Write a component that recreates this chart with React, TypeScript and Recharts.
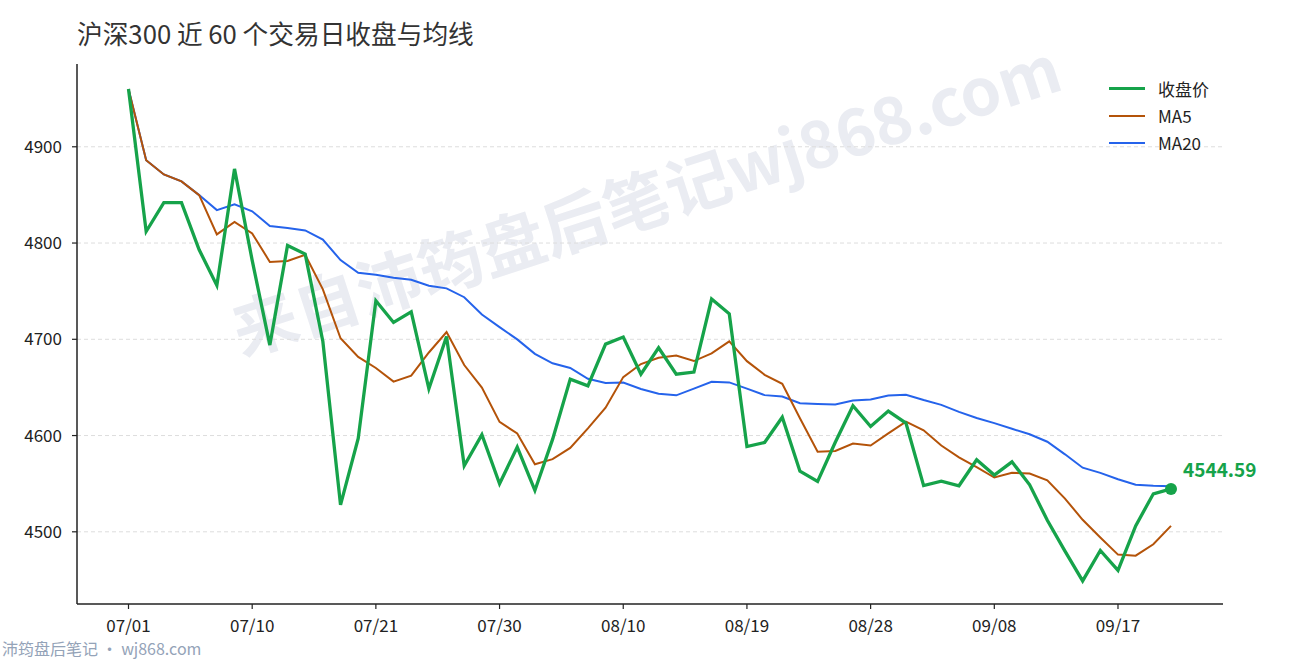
import React from 'react';
import { LineChart, Line, XAxis, YAxis, ReferenceLine } from 'recharts';

// 交易日（60 个）
const dates = [
  '07/01', '07/02', '07/03', '07/04', '07/07', '07/08', '07/09', '07/10',
  '07/11', '07/14', '07/15', '07/16', '07/17', '07/18', '07/21',
  '07/22', '07/23', '07/24', '07/25', '07/28', '07/29', '07/30',
  '07/31', '08/01', '08/04', '08/05', '08/06', '08/07', '08/10',
  '08/11', '08/12', '08/13', '08/14', '08/15', '08/18', '08/19',
  '08/20', '08/21', '08/22', '08/25', '08/26', '08/27', '08/28',
  '08/29', '09/01', '09/02', '09/03', '09/04', '09/05', '09/08',
  '09/09', '09/10', '09/11', '09/12', '09/15', '09/16', '09/17',
  '09/18', '09/19', '09/22',
];

// 收盘价
const closePrices = [
  4960, 4812, 4842, 4842, 4793, 4756, 4877, 4782, 4694, 4797.5,
  4788.5, 4697.7, 4528, 4597, 4740, 4717.5, 4728.6, 4648.6, 4703, 4568.6,
  4600.8, 4549.9, 4588, 4543, 4596, 4658.6, 4651.7, 4695, 4702.3, 4663.8,
  4691.2, 4663.8, 4666, 4741.8, 4726.5, 4588.6, 4592.8, 4619, 4563, 4552.3,
  4593, 4631, 4609.4, 4625.4, 4613, 4548, 4552.6, 4547.8, 4574.8, 4558.9,
  4572.7, 4548.8, 4512, 4480, 4449, 4480.6, 4460, 4506.2, 4539.5, 4544.59,
];

// MA5
const ma5 = [
  4960.0, 4886.0, 4871.3, 4864.0, 4849.8, 4809.0, 4822.0, 4810.0, 4780.4, 4781.3,
  4787.8, 4751.9, 4701.1, 4681.7, 4670.2, 4656.0, 4662.2, 4686.3, 4707.5, 4673.3,
  4649.9, 4614.2, 4602.1, 4570.1, 4575.5, 4587.1, 4607.5, 4628.9, 4660.7, 4674.3,
  4680.8, 4683.2, 4677.4, 4685.3, 4697.9, 4677.3, 4663.1, 4653.7, 4618.0, 4583.1,
  4584.0, 4591.7, 4589.7, 4602.2, 4614.4, 4605.4, 4589.7, 4577.4, 4567.2, 4556.4,
  4561.4, 4560.6, 4553.4, 4534.5, 4512.5, 4494.1, 4476.3, 4475.2, 4487.1, 4506.2,
];

// MA20
const ma20 = [
  4960.0, 4886.0, 4871.3, 4864.0, 4849.8, 4834.2, 4840.3, 4833.0, 4817.6, 4815.6,
  4813.1, 4803.5, 4782.3, 4769.1, 4767.1, 4764.0, 4761.9, 4755.6, 4752.9, 4743.7,
  4725.7, 4712.6, 4699.9, 4684.9, 4675.1, 4670.2, 4659.0, 4654.6, 4655.0, 4648.3,
  4643.5, 4641.8, 4648.7, 4655.9, 4655.2, 4648.8, 4642.0, 4640.5, 4633.5, 4632.7,
  4632.3, 4636.4, 4637.4, 4641.6, 4642.4, 4636.9, 4631.9, 4624.6, 4618.2, 4612.9,
  4607.0, 4601.3, 4593.6, 4580.5, 4566.6, 4561.2, 4554.6, 4548.9, 4547.8, 4547.4,
];

const yTicks = [4500, 4600, 4700, 4800, 4900];

const data = dates.map((date, i) => ({
  date,
  close: closePrices[i],
  ma5: ma5[i],
  ma20: ma20[i],
}));

const FONT = "'Noto Sans CJK SC', 'Noto Sans', sans-serif";
const GREEN = '#16a34a';
const ORANGE = '#b45309';
const BLUE = '#2563eb';
const lastIdx = closePrices.length - 1;

const legendItems = [
  { name: '收盘价', color: GREEN, width: 3 },
  { name: 'MA5', color: ORANGE, width: 2 },
  { name: 'MA20', color: BLUE, width: 2 },
];

function renderLastDot(props: any) {
  const { cx, cy, index } = props;
  if (index !== lastIdx) return <g key={`d${index}`} />;
  return (
    <g key={`d${index}`}>
      <circle cx={cx} cy={cy} r={6} fill={GREEN} />
      <text
        x={cx + 12}
        y={cy - 12}
        fill={GREEN}
        fontSize={19}
        fontWeight="bold"
        fontFamily={FONT}
      >
        {closePrices[lastIdx].toFixed(2)}
      </text>
    </g>
  );
}

export default function App() {
  return (
    <div style={{ position: 'fixed', left: 0, top: 0, width: 1290, height: 660, background: '#fff' }}>
      {/* 水印 + 标题 + 页脚 */}
      <svg width={1290} height={660} style={{ position: 'absolute', left: 0, top: 0 }}>
        <text
          x={645}
          y={196}
          textAnchor="middle"
          dominantBaseline="central"
          transform="rotate(-18 645 196)"
          fontSize={65}
          fontWeight="bold"
          fontFamily={FONT}
          fill="#eaecf2"
        >
          来自沛筠盘后笔记wj868.com
        </text>
        <text x={77} y={44} fontSize={25.7} fontFamily={FONT} fill="#333">
          沪深300 近 60 个交易日收盘与均线
        </text>
        <text x={2} y={655} fontSize={16} fontFamily={FONT} fill="#94a3b8">
          沛筠盘后笔记 · wj868.com
        </text>
      </svg>

      <div style={{ position: 'absolute', left: 0, top: 0 }}>
        <LineChart
          width={1290}
          height={660}
          data={data}
          margin={{ top: 64, right: 67, bottom: 0, left: 0 }}
        >
          <XAxis
            dataKey="date"
            interval={6}
            height={56}
            padding={{ left: 51.5, right: 52 }}
            tickSize={5}
            tickMargin={11}
            tick={{ fontSize: 17, fill: '#222', fontFamily: FONT }}
            axisLine={{ stroke: '#222', strokeWidth: 1.5 }}
            tickLine={{ stroke: '#222', strokeWidth: 1.2 }}
          />
          <YAxis
            width={77}
            domain={[4425, 4986]}
            ticks={yTicks}
            allowDataOverflow
            tickSize={5}
            tickMargin={10}
            tick={{ fontSize: 17, fill: '#222', fontFamily: FONT }}
            axisLine={{ stroke: '#222', strokeWidth: 1.5 }}
            tickLine={{ stroke: '#222', strokeWidth: 1.2 }}
          />
          {/* 网格线 */}
          {yTicks.map((v) => (
            <ReferenceLine key={v} y={v} stroke="#dddddd" strokeDasharray="4 3" />
          ))}
          <Line
            type="linear"
            dataKey="ma20"
            stroke={BLUE}
            strokeWidth={2}
            dot={false}
            activeDot={false}
            isAnimationActive={false}
          />
          <Line
            type="linear"
            dataKey="ma5"
            stroke={ORANGE}
            strokeWidth={2}
            dot={false}
            activeDot={false}
            isAnimationActive={false}
          />
          <Line
            type="linear"
            dataKey="close"
            stroke={GREEN}
            strokeWidth={3.3}
            dot={renderLastDot}
            activeDot={false}
            isAnimationActive={false}
          />
        </LineChart>
      </div>

      {/* 图例 */}
      <div
        style={{
          position: 'absolute',
          left: 1109,
          top: 75,
          fontFamily: FONT,
          fontSize: 17,
          color: '#222',
        }}
      >
        {legendItems.map((item) => (
          <div key={item.name} style={{ display: 'flex', alignItems: 'center', height: 27 }}>
            <div style={{ width: 36, height: item.width, background: item.color, marginRight: 13 }} />
            <span>{item.name}</span>
          </div>
        ))}
      </div>
    </div>
  );
}
